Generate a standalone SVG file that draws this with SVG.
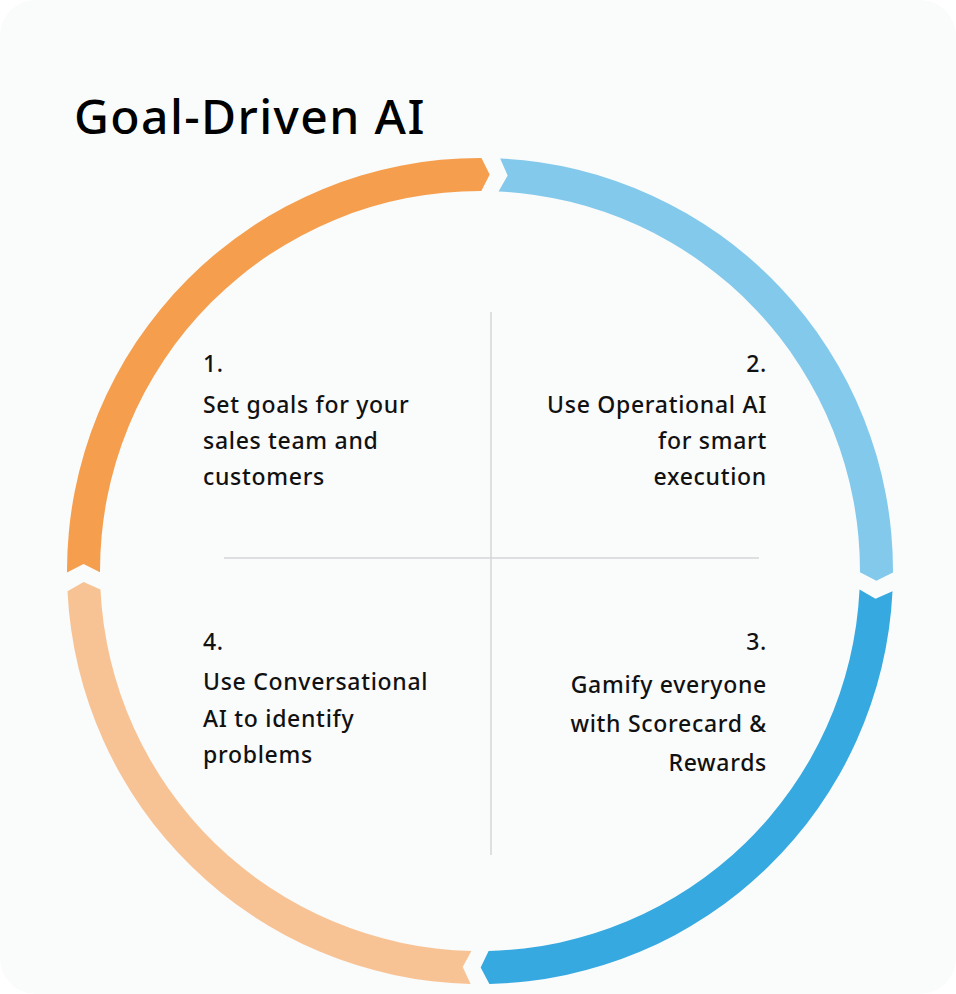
<svg xmlns="http://www.w3.org/2000/svg" width="956" height="994" viewBox="0 0 956 994">
<style>
.t{font-family:"Noto Sans","Liberation Sans",sans-serif;font-size:23px;font-weight:500;fill:#111;letter-spacing:0.7px}
.r{text-anchor:end}
.div{stroke:#d4d6d8;stroke-width:1.5}
</style>
<rect x="0" y="0" width="956" height="994" rx="36" fill="#fafbfb"/>
<text x="74" y="134" font-family="Noto Sans, Liberation Sans, sans-serif" font-size="48" font-weight="500" letter-spacing="1.4" fill="#000">Goal-Driven AI</text>
<g id="dividers">
<line class="div" x1="491" y1="312" x2="491" y2="855"/>
<line class="div" x1="224" y1="558" x2="759" y2="558"/>
</g>
<g id="connectors"></g>
<g id="seg1"><path fill="#f59e4e" d="M67.00,572.44 A413,413 0 0 1 481.44,158.00 L489.69,174.62 L481.33,191.00 A380,380 0 0 0 100.00,572.33 L83.56,564.08 Z"/></g>
<g id="seg2"><path fill="#82c9ec" d="M500.18,158.49 A413,413 0 0 1 893.00,572.44 L876.38,580.69 L860.00,572.33 A380,380 0 0 0 498.56,191.45 L507.66,175.47 Z"/></g>
<g id="seg3"><path fill="#35a9e0" d="M892.51,591.18 A413,413 0 0 1 489.37,983.89 L480.69,967.50 L488.62,950.90 A380,380 0 0 0 859.55,589.56 L875.53,598.66 Z"/></g>
<g id="seg4"><path fill="#f8c394" d="M470.63,983.89 A413,413 0 0 1 67.49,591.18 L83.65,582.07 L100.45,589.56 A380,380 0 0 0 471.38,950.90 L462.70,967.12 Z"/></g>
<g id="step1"><text class="t" x="203" y="372">1.</text><text class="t" x="203" y="413">Set goals for your</text><text class="t" x="203" y="449">sales team and</text><text class="t" x="203" y="485">customers</text></g>
<g id="step2"><text class="t r" x="767" y="372">2.</text><text class="t r" x="767" y="413">Use Operational AI</text><text class="t r" x="767" y="449">for smart</text><text class="t r" x="767" y="485">execution</text></g>
<g id="step3"><text class="t r" x="767" y="650">3.</text><text class="t r" x="767" y="693">Gamify everyone</text><text class="t r" x="767" y="732">with Scorecard &amp;</text><text class="t r" x="767" y="771">Rewards</text></g>
<g id="step4"><text class="t" x="203" y="650">4.</text><text class="t" x="203" y="690">Use Conversational</text><text class="t" x="203" y="727">AI to identify</text><text class="t" x="203" y="763">problems</text></g>
</svg>
